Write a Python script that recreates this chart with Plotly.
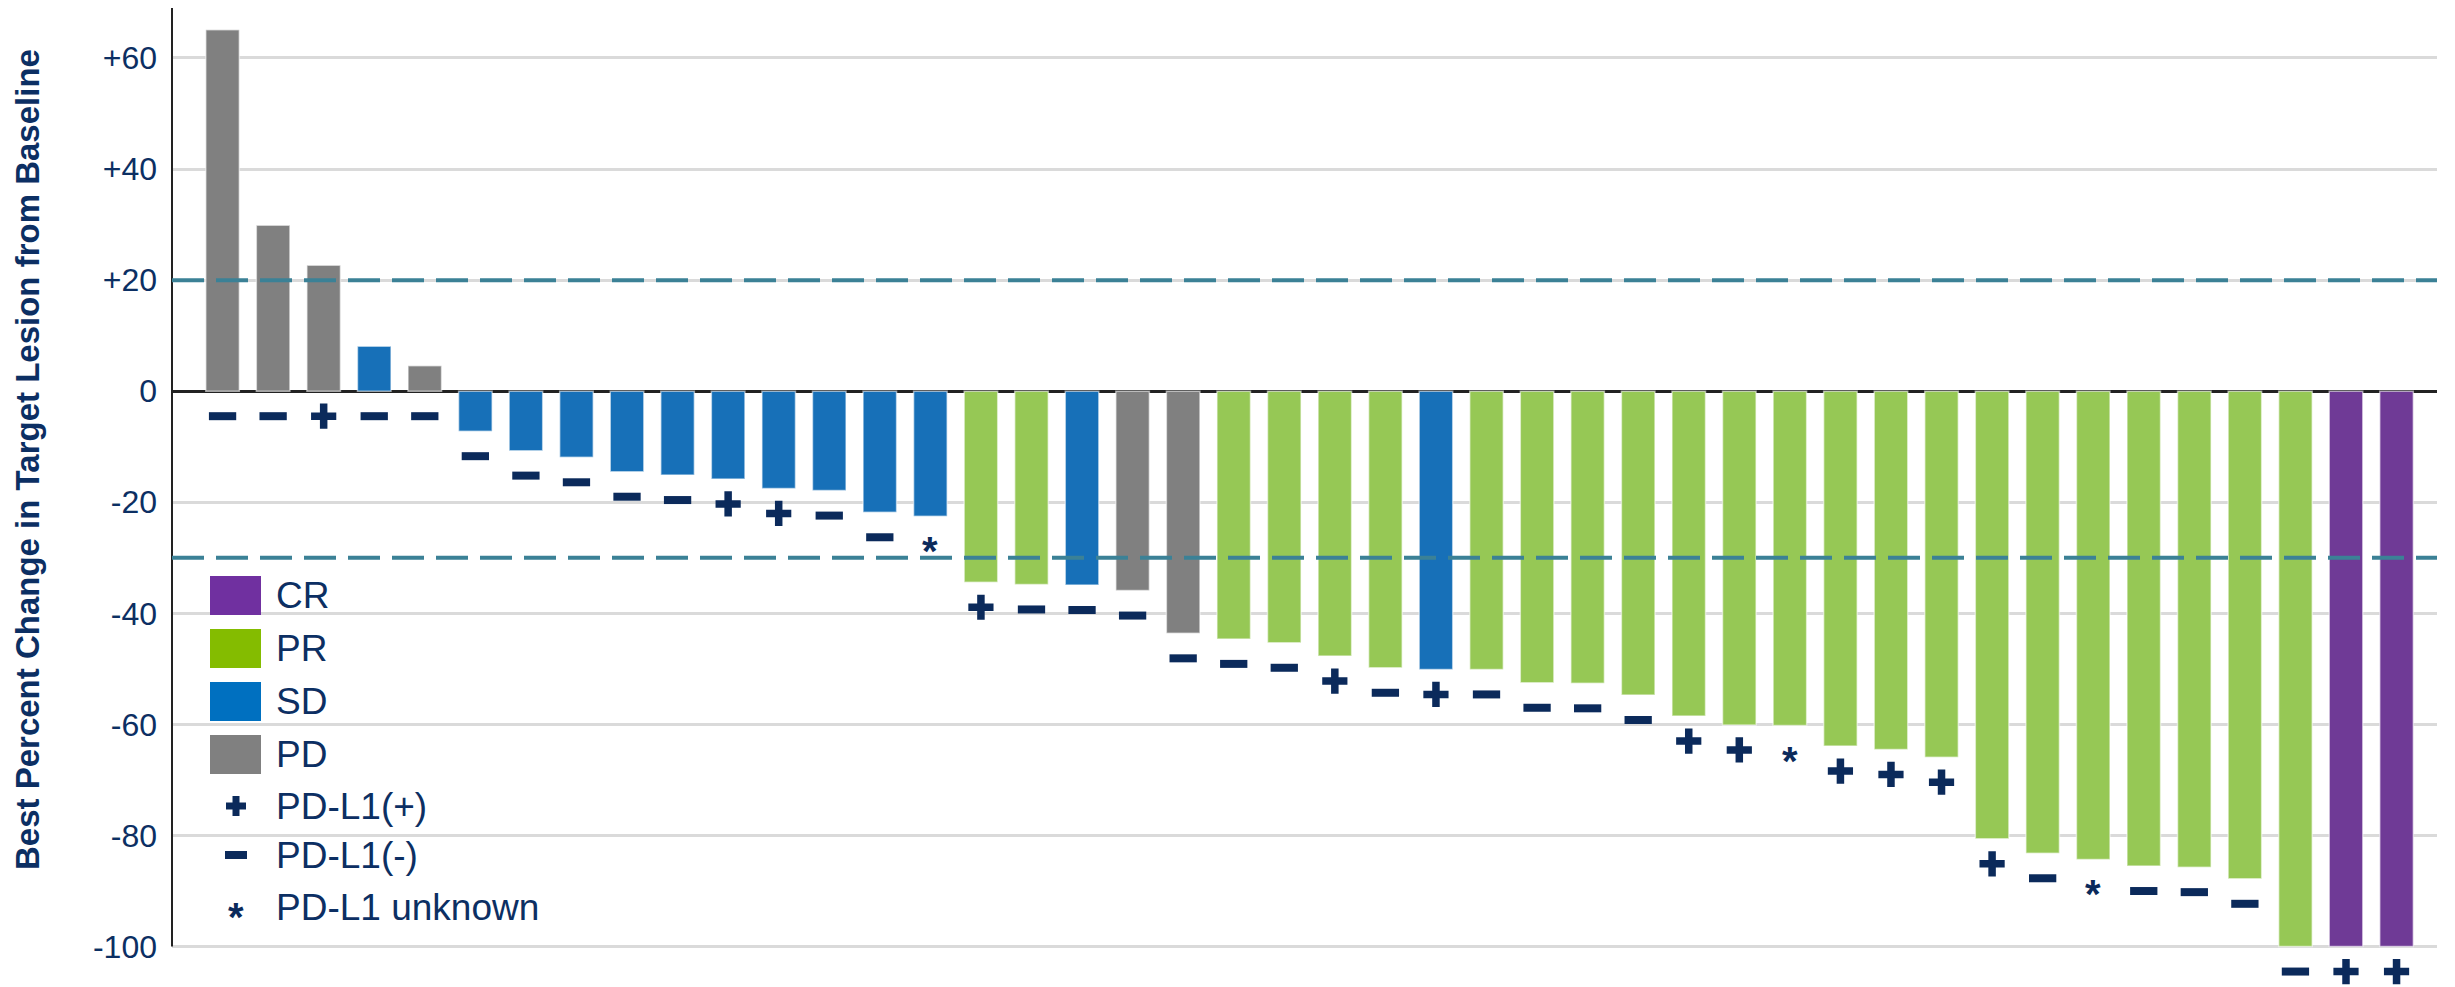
import plotly.graph_objects as go

# Best % change in target lesion per patient, sorted (waterfall)
pct_change = [65.1, 29.9, 22.7, 8.1, 4.6, -7.2, -10.7, -11.9, -14.5, -15.1,
              -15.8, -17.5, -17.9, -21.8, -22.5, -34.4, -34.8, -34.9, -35.9, -43.6,
              -44.6, -45.3, -47.7, -49.8, -50.1, -50.1, -52.5, -52.6, -54.7, -58.5,
              -60.1, -60.2, -63.9, -64.5, -65.9, -80.6, -83.2, -84.3, -85.5, -85.7,
              -87.8, -100, -100, -100]

# Best overall response per patient
response = ["PD", "PD", "PD", "SD", "PD", "SD", "SD", "SD", "SD", "SD",
            "SD", "SD", "SD", "SD", "SD", "PR", "PR", "SD", "PD", "PD",
            "PR", "PR", "PR", "PR", "SD", "PR", "PR", "PR", "PR", "PR",
            "PR", "PR", "PR", "PR", "PR", "PR", "PR", "PR", "PR", "PR",
            "PR", "PR", "CR", "CR"]

# PD-L1 status per patient: "+", "-" or "*" (unknown)
pdl1 = ["-", "-", "+", "-", "-", "-", "-", "-", "-", "-",
        "+", "+", "-", "-", "*", "+", "-", "-", "-", "-",
        "-", "-", "+", "-", "+", "-", "-", "-", "-", "+",
        "+", "*", "+", "+", "+", "+", "-", "*", "-", "-",
        "-", "-", "+", "+"]

tick_vals = [-100, -80, -60, -40, -20, 0, 20, 40, 60]
tick_text = ["-100", "-80", "-60", "-40", "-20", "0", "+20", "+40", "+60"]
ref_lines = [20, -30]

legend_items = ["CR", "PR", "SD", "PD"]
legend_marks = [("+", "PD-L1(+)"), ("-", "PD-L1(-)"), ("*", "PD-L1 unknown")]

bar_colors = {"CR": "#6F3A96", "PR": "#96C855", "SD": "#1770B8", "PD": "#808080"}
swatch_colors = {"CR": "#7030A0", "PR": "#84BC00", "SD": "#0070C0", "PD": "#808080"}
NAVY = "#0C2F63"
MARK = "#0B2A5B"
FONT = "Liberation Sans, Arial, sans-serif"

# y-range runs a little below -100 so the status marks under the
# deepest bars stay inside the subplot; the visible axis stops at -100
Y_MIN, Y_AXIS_MIN, Y_MAX = -106.2, -100, 69

W, H = 2455, 987
ML, MR, MT, MB = 172, 18, 8, 6
PW, PH = W - ML - MR, H - MT - MB
MARK_OFFSET = 4.5


def px_x(px):
    return (px - ML) / PW


def px_y(py):
    return (H - MB - py) / PH


idx = list(range(len(pct_change)))
mark_y = [min(v, 0) - MARK_OFFSET for v in pct_change]

fig = go.Figure()

fig.add_trace(go.Bar(
    x=idx, y=pct_change, width=0.663,
    marker=dict(color=[bar_colors[r] for r in response],
                line=dict(color="rgba(255,255,255,0.55)", width=1.5)),
    showlegend=False, hoverinfo="skip",
))

plus_i = [i for i in idx if pdl1[i] == "+"]
minus_i = [i for i in idx if pdl1[i] == "-"]
star_i = [i for i in idx if pdl1[i] == "*"]

fig.add_trace(go.Scatter(
    x=plus_i, y=[mark_y[i] for i in plus_i], mode="markers", cliponaxis=False,
    marker=dict(symbol="cross-thin", size=18, line=dict(color=MARK, width=7.5)),
    showlegend=False, hoverinfo="skip",
))
fig.add_trace(go.Scatter(
    x=minus_i, y=[mark_y[i] for i in minus_i], mode="markers", cliponaxis=False,
    marker=dict(symbol="line-ew", size=19.5, line=dict(color=MARK, width=8)),
    showlegend=False, hoverinfo="skip",
))

annotations = []
for i in star_i:
    annotations.append(dict(
        x=i, y=mark_y[i], xref="x", yref="y", text="<b>*</b>", showarrow=False,
        font=dict(family=FONT, size=40, color=MARK), yshift=-10,
        xanchor="center", yanchor="middle",
    ))

shapes = []
# left axis line, from -100 up to the top of the plot
shapes.append(dict(
    type="line", xref="paper", x0=0, x1=0, yref="y", y0=Y_AXIS_MIN, y1=Y_MAX,
    line=dict(color="#222222", width=2), layer="above",
))
for yv in ref_lines:
    shapes.append(dict(
        type="line", xref="paper", x0=0, x1=1, yref="y", y0=yv, y1=yv,
        line=dict(color="#3B8196", width=4, dash="32px,12px"), layer="above",
    ))

# Legend: response swatches
sw_top = 576
for k, name in enumerate(legend_items):
    top = sw_top + 53 * k
    shapes.append(dict(
        type="rect", xref="paper", yref="paper",
        x0=px_x(210), x1=px_x(261), y0=px_y(top + 39), y1=px_y(top),
        fillcolor=swatch_colors[name], line=dict(width=0),
    ))
    annotations.append(dict(
        x=px_x(274), y=px_y(top + 19.5), xref="paper", yref="paper",
        text=name, showarrow=False, xanchor="left", yanchor="middle",
        font=dict(family=FONT, size=37, color=NAVY),
    ))

# Legend: PD-L1 status symbols
row_y = [806, 855, 907]
for (sym, label), cy in zip(legend_marks, row_y):
    cx = 236
    if sym == "+":
        shapes.append(dict(type="rect", xref="paper", yref="paper",
                           x0=px_x(cx - 10), x1=px_x(cx + 10),
                           y0=px_y(cy + 3.5), y1=px_y(cy - 3.5),
                           fillcolor=MARK, line=dict(width=0)))
        shapes.append(dict(type="rect", xref="paper", yref="paper",
                           x0=px_x(cx - 3.5), x1=px_x(cx + 3.5),
                           y0=px_y(cy + 10), y1=px_y(cy - 10),
                           fillcolor=MARK, line=dict(width=0)))
    elif sym == "-":
        shapes.append(dict(type="rect", xref="paper", yref="paper",
                           x0=px_x(cx - 11), x1=px_x(cx + 11),
                           y0=px_y(cy + 4), y1=px_y(cy - 4),
                           fillcolor=MARK, line=dict(width=0)))
    else:
        annotations.append(dict(
            x=px_x(cx), y=px_y(cy), xref="paper", yref="paper", text="<b>*</b>",
            showarrow=False, xanchor="center", yanchor="middle", yshift=-10,
            font=dict(family=FONT, size=40, color=MARK),
        ))
    annotations.append(dict(
        x=px_x(274), y=px_y(cy), xref="paper", yref="paper",
        text=label, showarrow=False, xanchor="left", yanchor="middle",
        font=dict(family=FONT, size=37, color=NAVY),
    ))

# Y-axis title
annotations.append(dict(
    x=px_x(27), y=px_y(460), xref="paper", yref="paper",
    text="<b>Best Percent Change in Target Lesion from Baseline</b>",
    textangle=-90, showarrow=False, xanchor="center", yanchor="middle",
    font=dict(family=FONT, size=33, color=NAVY),
))

fig.update_layout(
    width=W, height=H,
    margin=dict(l=ML, r=MR, t=MT, b=MB, pad=0),
    paper_bgcolor="white", plot_bgcolor="white",
    showlegend=False,
    xaxis=dict(range=[-1.0, 43.8], showticklabels=False, ticks="",
               showgrid=False, zeroline=False, showline=False, fixedrange=True),
    yaxis=dict(range=[Y_MIN, Y_MAX], tickvals=tick_vals, ticktext=tick_text,
               tickfont=dict(family=FONT, size=32, color=NAVY),
               ticks="", ticklabelstandoff=14,
               showgrid=True, gridcolor="#DADADA", gridwidth=2.5,
               zeroline=True, zerolinecolor="#222222", zerolinewidth=2.5,
               showline=False, fixedrange=True),
    shapes=shapes,
    annotations=annotations,
    hovermode=False,
)

fig.write_html("out.html")
